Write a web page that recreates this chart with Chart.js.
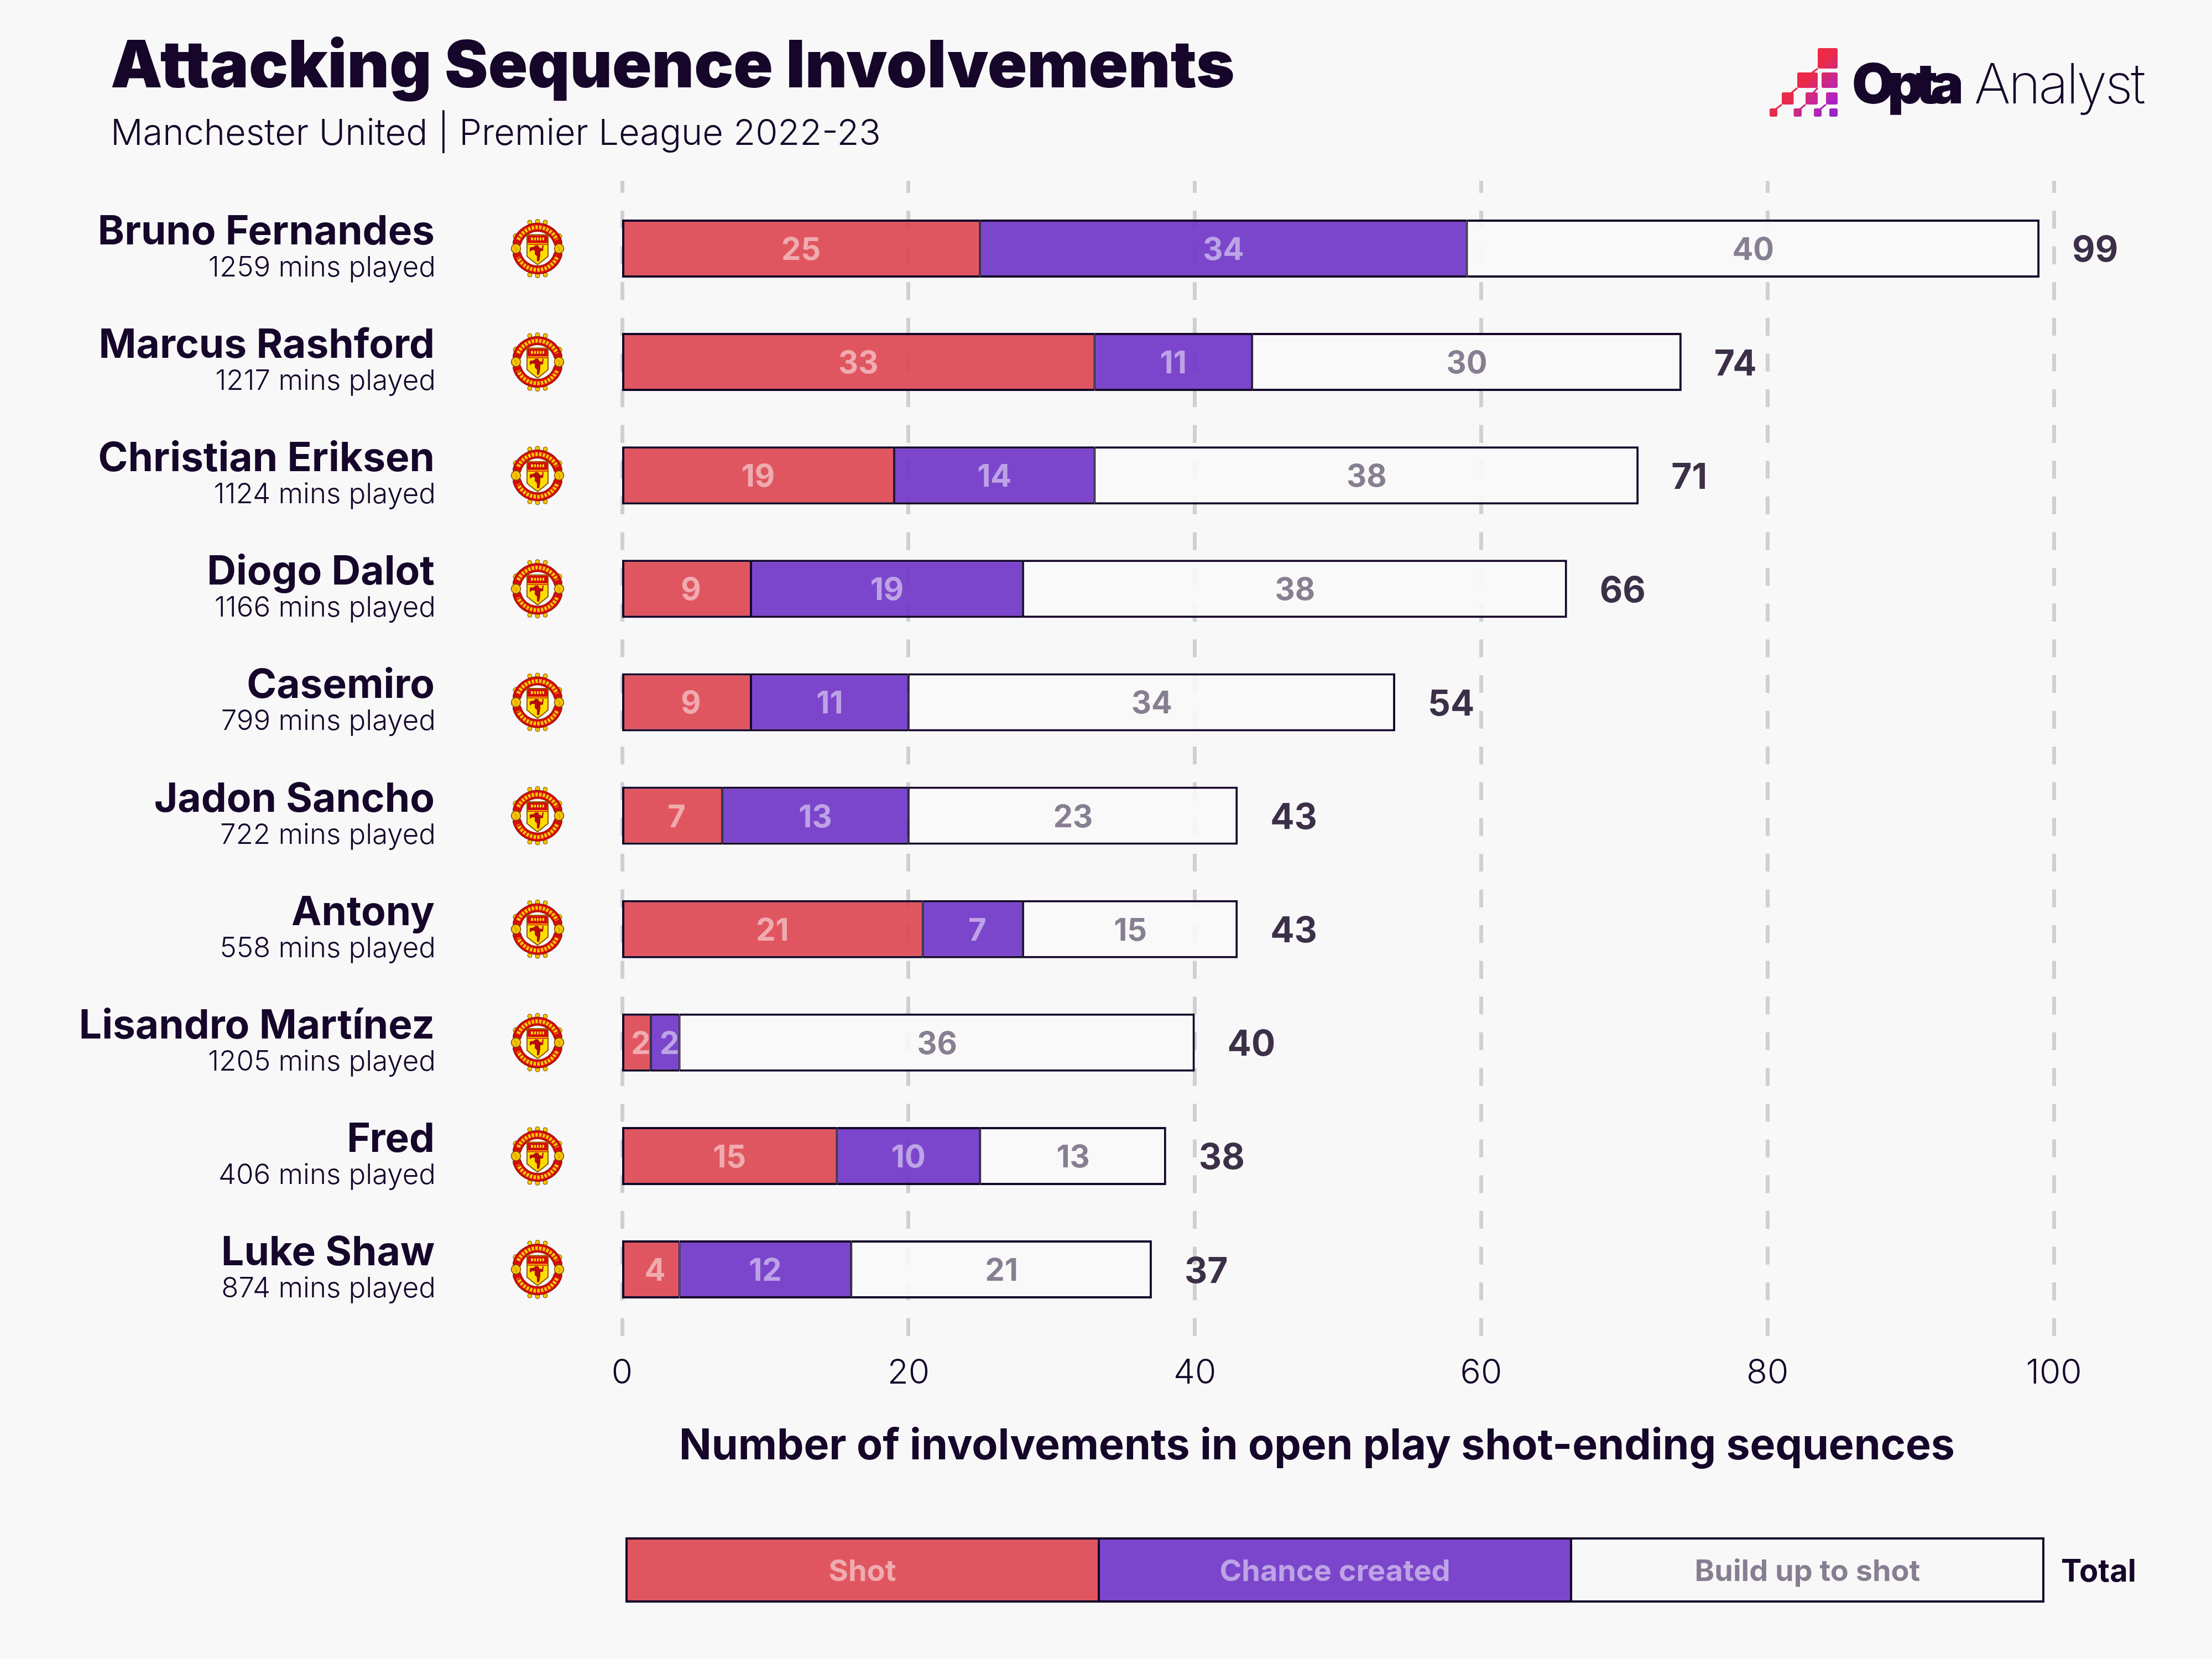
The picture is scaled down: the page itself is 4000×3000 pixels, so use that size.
<!DOCTYPE html>
<html>
<head>
<meta charset="utf-8">
<title>Attacking Sequence Involvements</title>
<script src="https://cdn.jsdelivr.net/npm/chart.js@4"></script>
<style>
html,body{margin:0;padding:0;background:#f8f8f8;}
canvas{display:block;}
</style>
</head>
<body>
<canvas id="c" width="4000" height="3000" style="width:4000px;height:3000px"></canvas>
<script>
const titleText = "Attacking Sequence Involvements";
const subtitleText = "Manchester United | Premier League 2022-23";
const axisTitleText = "Number of involvements in open play shot-ending sequences";
const totalLabel = "Total";
const players = ["Bruno Fernandes","Marcus Rashford","Christian Eriksen","Diogo Dalot","Casemiro","Jadon Sancho","Antony","Lisandro Martínez","Fred","Luke Shaw"];
const minutes = [1259,1217,1124,1166,799,722,558,1205,406,874];
const shots = [25,33,19,9,9,7,21,2,15,4];
const chances = [34,11,14,19,11,13,7,2,10,12];
const buildups = [40,30,38,38,34,23,15,36,13,21];
const totals = [99,74,71,66,54,43,43,40,38,37];
const seriesNames = ["Shot","Chance created","Build up to shot"];

const DARK = "#15062a";
const BG = "#f8f8f8";
const FILLS = ["rgba(221,68,79,0.9)","rgba(109,50,198,0.9)","rgba(248,248,248,0.9)"];
const SOLID = ["#e05660","#7b46cb","#f8f8f8"];
const INK = ["rgba(255,255,255,0.5)","rgba(255,255,255,0.5)","rgba(21,6,42,0.5)"];
const FAMILY = "Inter, sans-serif";

function toPoints(values){ return values.map((v,i)=>({x:v,y:i})); }

function fitText(ctx,text,x,y,width){
  ctx.letterSpacing="0px";
  const w=ctx.measureText(text).width;
  ctx.letterSpacing=((width-w)/(text.length-1)).toFixed(2)+"px";
  ctx.fillText(text,x,y);
  ctx.letterSpacing="0px";
}

function drawCrest(ctx,cx,cy){
  ctx.save();
  ctx.translate(cx,cy);
  const gold="#f6c400", red="#d30d0d", edge="#7a4a00";
  ctx.fillStyle=gold; ctx.strokeStyle=edge; ctx.lineWidth=1;
  [[-14,-47.5],[0,-49],[14,-47.5],[-14,47.5],[0,49],[14,47.5]].forEach(([x,y])=>{
    ctx.beginPath(); ctx.arc(x,y,4,0,Math.PI*2); ctx.fill(); ctx.stroke();
  });
  [[-39,-22],[39,-22]].forEach(([x,y])=>{
    ctx.beginPath(); ctx.arc(x,y,5,0,Math.PI*2); ctx.fill(); ctx.stroke();
  });
  const ribbons=[[Math.PI*1.09,Math.PI*1.91],[Math.PI*0.09,Math.PI*0.91]];
  ribbons.forEach(([a,b])=>{
    ctx.beginPath(); ctx.arc(0,0,38.5,a,b);
    ctx.lineCap="round"; ctx.lineWidth=16; ctx.strokeStyle="#8a1000"; ctx.stroke();
    ctx.lineWidth=14; ctx.strokeStyle=red; ctx.stroke();
    ctx.beginPath(); ctx.arc(0,0,38.5,a+0.14,b-0.14);
    ctx.lineCap="butt"; ctx.lineWidth=7; ctx.strokeStyle=gold; ctx.setLineDash([4.5,2.2]); ctx.stroke(); ctx.setLineDash([]);
  });
  [-39,39].forEach(x=>{
    ctx.beginPath(); ctx.arc(x,0,8.5,0,Math.PI*2);
    ctx.fillStyle=gold; ctx.fill(); ctx.lineWidth=1.5; ctx.strokeStyle=edge; ctx.stroke();
    ctx.beginPath(); ctx.moveTo(x-3,-4); ctx.lineTo(x+2,1); ctx.lineTo(x-1,5);
    ctx.lineWidth=1; ctx.strokeStyle="#b06a00"; ctx.stroke();
  });
  ctx.beginPath();
  ctx.moveTo(-19,-25); ctx.lineTo(19,-25); ctx.lineTo(19,14);
  ctx.quadraticCurveTo(10,22,0,29);
  ctx.quadraticCurveTo(-10,22,-19,14); ctx.closePath();
  ctx.fillStyle="#ffdc00"; ctx.fill(); ctx.lineWidth=2; ctx.strokeStyle="#8a5a00"; ctx.stroke();
  ctx.fillStyle=red; ctx.fillRect(-18,-24,36,14);
  ctx.fillStyle="#ffdc00"; ctx.fillRect(-12,-20,24,5);
  ctx.fillStyle=red; [-8,-3,2,7].forEach(x=>ctx.fillRect(x,-21,2,6));
  ctx.fillRect(-18,-8.5,36,1.5);
  ctx.fillStyle="#b50d0d";
  ctx.beginPath();
  ctx.moveTo(-14,-2); ctx.lineTo(-7,-3); ctx.lineTo(-4,-6); ctx.lineTo(1,-6);
  ctx.lineTo(3,-2); ctx.lineTo(8,0); ctx.lineTo(9,-6); ctx.lineTo(11,-6); ctx.lineTo(10,4);
  ctx.lineTo(5,5); ctx.lineTo(5,12); ctx.lineTo(3,23); ctx.lineTo(-1,23); ctx.lineTo(-1,14);
  ctx.lineTo(-5,10); ctx.lineTo(-5,3); ctx.lineTo(-10,3); ctx.lineTo(-14,6); ctx.closePath();
  ctx.fill();
  ctx.restore();
}

function drawLogo(ctx){
  ctx.save();
  const g=ctx.createLinearGradient(3240,130,3330,215);
  g.addColorStop(0,"#f02840"); g.addColorStop(0.25,"#ea2a4a"); g.addColorStop(0.5,"#c82890");
  g.addColorStop(0.75,"#ae22c8"); g.addColorStop(1,"#7f27c8");
  ctx.fillStyle=g; ctx.strokeStyle=g;
  const squares=[[3287,87,36,37],[3250,131,37,28],[3294,131,29,28],[3222,167,21.5,22],[3265,167,22,22],[3302,167,21,22],[3200,196,14,15],[3243.5,196,14.5,15],[3280,196,14,15],[3308,196,15,15]];
  squares.forEach(([x,y,w,h])=>{ ctx.beginPath(); ctx.roundRect(x,y,w,h,3); ctx.fill(); });
  const links=[[3287,124,3272,135],[3250,159,3236,171],[3287,159,3276,171],[3222,189,3208,200],[3265,189,3252,200],[3302,189,3288,200]];
  ctx.lineWidth=3;
  links.forEach(([a,b,c,d])=>{ ctx.beginPath(); ctx.moveTo(a,b); ctx.lineTo(c,d); ctx.stroke(); });
  ctx.fillStyle=DARK; ctx.textAlign="left"; ctx.textBaseline="alphabetic";
  ctx.font="900 100px "+FAMILY; fitText(ctx,"Opta",3349,187,202);
  ctx.font="200 100px "+FAMILY; fitText(ctx,"Analyst",3570,187,310);
  ctx.restore();
}

const annotations = {
  id:"annotations",
  afterDatasetsDraw(chart){
    const ctx=chart.ctx, xs=chart.scales.x, ys=chart.scales.y;
    ctx.save();
    players.forEach((name,i)=>{
      const cy=ys.getPixelForValue(i);
      ctx.textAlign="right"; ctx.textBaseline="alphabetic"; ctx.fillStyle=DARK;
      ctx.font="700 73px "+FAMILY; ctx.fillText(name,786,cy-7.5);
      ctx.font="300 51px "+FAMILY; ctx.fillText(minutes[i]+" mins played",788,cy+50.5);
      drawCrest(ctx,972,cy);
      let run=0;
      [shots,chances,buildups].forEach((arr,k)=>{
        const v=arr[i];
        const px=xs.getPixelForValue(run+v/2)+(String(v).length===1?8:0);
        ctx.textAlign="center"; ctx.fillStyle=INK[k];
        ctx.font="700 56px "+FAMILY; ctx.fillText(String(v),px,cy+20.5);
        run+=v;
      });
      ctx.textAlign="left"; ctx.fillStyle="#3c3048";
      ctx.font="700 64px "+FAMILY;
      ctx.fillText(String(totals[i]),xs.getPixelForValue(totals[i])+59,cy+24);
    });
    ctx.textAlign="center"; ctx.fillStyle=DARK; ctx.font="700 77px "+FAMILY;
    ctx.fillText(axisTitleText,2381.5,2639);
    const edges=[1132,1987,2841,3696];
    seriesNames.forEach((s,k)=>{
      ctx.fillStyle=SOLID[k]; ctx.fillRect(edges[k],2780,edges[k+1]-edges[k],118);
    });
    ctx.strokeStyle=DARK; ctx.lineWidth=4;
    ctx.strokeRect(edges[0]+1,2782,edges[3]-edges[0]-2,114);
    [1,2].forEach(k=>{ ctx.beginPath(); ctx.moveTo(edges[k],2780); ctx.lineTo(edges[k],2898); ctx.stroke(); });
    ctx.font="700 54px "+FAMILY; ctx.textAlign="center";
    seriesNames.forEach((s,k)=>{
      ctx.fillStyle=INK[k]; ctx.fillText(s,(edges[k]+edges[k+1])/2,2859);
    });
    ctx.textAlign="left"; ctx.fillStyle=DARK; ctx.font="700 56px "+FAMILY;
    ctx.fillText(totalLabel,3727,2860);
    drawLogo(ctx);
    ctx.restore();
  }
};

const background = {
  id:"background",
  beforeDraw(chart){
    const c=chart.ctx; c.save(); c.fillStyle=BG; c.fillRect(0,0,chart.width,chart.height); c.restore();
  }
};

function barBorder(k){
  return {top:4,bottom:4,left:k===0?4:2,right:k===2?4:2};
}

new Chart(document.getElementById("c"),{
  type:"bar",
  data:{
    datasets:[shots,chances,buildups].map((vals,k)=>({
      label:seriesNames[k],
      data:toPoints(vals),
      stack:"s",
      backgroundColor:FILLS[k],
      borderColor:DARK,
      borderWidth:barBorder(k),
      borderSkipped:false,
      inflateAmount:0,
      barThickness:105
    }))
  },
  options:{
    indexAxis:"y",
    responsive:false,
    animation:false,
    devicePixelRatio:1,
    layout:{padding:{left:200,right:286,top:0,bottom:462}},
    plugins:{
      legend:{display:false},
      tooltip:{enabled:false},
      title:{display:true,text:titleText,align:"start",color:DARK,
        font:{family:FAMILY,weight:"900",size:118,lineHeight:1},
        padding:{top:64,bottom:28}},
      subtitle:{display:true,text:subtitleText,align:"start",color:DARK,
        font:{family:FAMILY,weight:"300",size:65,lineHeight:1},
        padding:{top:0,bottom:52}}
    },
    scales:{
      x:{
        type:"linear",position:"bottom",stacked:true,min:0,max:100,
        grid:{color:"#d0d0d0",lineWidth:7,drawTicks:false},
        border:{display:false,dash:[32.3,32.3],dashOffset:10.6},
        ticks:{stepSize:20,color:DARK,maxRotation:0,autoSkip:false,padding:28,font:{family:FAMILY,weight:"300",size:62}},
        afterFit(s){s.height=120;s.paddingLeft=0;s.paddingRight=0;s.getLineWidthForValue=()=>0;}
      },
      y:{
        type:"linear",position:"left",reverse:true,offset:false,min:-0.597,max:9.597,
        grid:{display:false},border:{display:false},
        ticks:{display:false},
        afterFit(s){s.width=925;}
      }
    }
  },
  plugins:[background,annotations]
});
</script>
</body>
</html>
